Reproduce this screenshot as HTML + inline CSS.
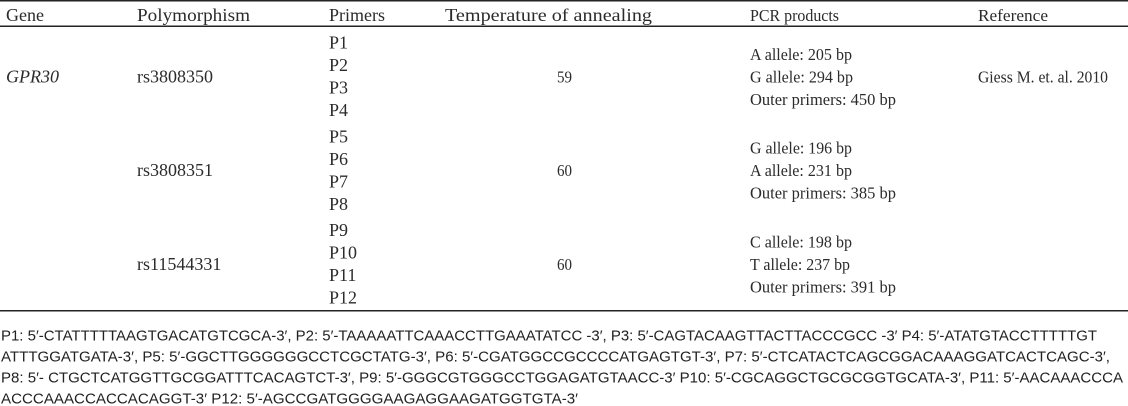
<!DOCTYPE html>
<html>
<head>
<meta charset="utf-8">
<style>
  html, body { margin: 0; padding: 0; background: #ffffff; }
  body { width: 1128px; height: 406px; overflow: hidden; }
  svg { display: block; }
  .s { font-family: "Liberation Serif", serif; font-size: 18px; fill: #2b2b2b; }
  .t { font-family: "Liberation Serif", serif; font-size: 16.5px; fill: #2b2b2b; }
  .f { font-family: "Liberation Sans", sans-serif; font-size: 15px; fill: #222222; }
</style>
</head>
<body>
<svg width="1128" height="406" viewBox="0 0 1128 406" xmlns="http://www.w3.org/2000/svg">
  <rect x="0" y="0" width="1128" height="406" fill="#ffffff"/>
  <!-- rules -->
  <rect x="0" y="0" width="1128" height="1.5" fill="#222"/>
  <rect x="0" y="25.5" width="1128" height="1.5" fill="#222"/>
  <rect x="0" y="310" width="1128" height="1.5" fill="#222"/>

  <!-- header -->
  <text class="s" x="6" y="21">Gene</text>
  <text class="s" x="137" y="21" textLength="113" lengthAdjust="spacingAndGlyphs">Polymorphism</text>
  <text class="s" x="329" y="21">Primers</text>
  <text class="s" x="445" y="21" textLength="207" lengthAdjust="spacingAndGlyphs">Temperature of annealing</text>
  <text class="t" x="750" y="21" textLength="89" lengthAdjust="spacingAndGlyphs">PCR products</text>
  <text class="t" x="978" y="21" textLength="70" lengthAdjust="spacingAndGlyphs">Reference</text>

  <!-- group 1 -->
  <text class="s" x="6" y="82.25" font-style="italic">GPR30</text>
  <text class="s" x="137" y="82.25">rs3808350</text>
  <text class="s" x="329" y="48.5">P1</text>
  <text class="s" x="329" y="71">P2</text>
  <text class="s" x="329" y="93.5">P3</text>
  <text class="s" x="329" y="116">P4</text>
  <text class="t" x="557" y="82.25" textLength="15" lengthAdjust="spacingAndGlyphs">59</text>
  <text class="t" x="750" y="59.75" textLength="102" lengthAdjust="spacingAndGlyphs">A allele: 205 bp</text>
  <text class="t" x="750" y="82.25" textLength="103" lengthAdjust="spacingAndGlyphs">G allele: 294 bp</text>
  <text class="t" x="750" y="104.75" textLength="146" lengthAdjust="spacingAndGlyphs">Outer primers: 450 bp</text>
  <text class="t" x="978" y="82.25" textLength="130" lengthAdjust="spacingAndGlyphs">Giess M. et. al. 2010</text>

  <!-- group 2 -->
  <text class="s" x="137" y="176">rs3808351</text>
  <text class="s" x="329" y="142.5">P5</text>
  <text class="s" x="329" y="165">P6</text>
  <text class="s" x="329" y="187.5">P7</text>
  <text class="s" x="329" y="210">P8</text>
  <text class="t" x="557" y="176" textLength="15" lengthAdjust="spacingAndGlyphs">60</text>
  <text class="t" x="750" y="153.5" textLength="102" lengthAdjust="spacingAndGlyphs">G allele: 196 bp</text>
  <text class="t" x="750" y="176" textLength="102" lengthAdjust="spacingAndGlyphs">A allele: 231 bp</text>
  <text class="t" x="750" y="198.5" textLength="146" lengthAdjust="spacingAndGlyphs">Outer primers: 385 bp</text>

  <!-- group 3 -->
  <text class="s" x="137" y="269.75">rs11544331</text>
  <text class="s" x="329" y="236">P9</text>
  <text class="s" x="329" y="258.5">P10</text>
  <text class="s" x="329" y="281">P11</text>
  <text class="s" x="329" y="303.5">P12</text>
  <text class="t" x="557" y="269.75" textLength="15" lengthAdjust="spacingAndGlyphs">60</text>
  <text class="t" x="750" y="247.25" textLength="102" lengthAdjust="spacingAndGlyphs">C allele: 198 bp</text>
  <text class="t" x="750" y="269.75" textLength="100" lengthAdjust="spacingAndGlyphs">T allele: 237 bp</text>
  <text class="t" x="750" y="292.25" textLength="146" lengthAdjust="spacingAndGlyphs">Outer primers: 391 bp</text>

  <!-- footnote -->
  <text class="f" x="1" y="340.3" textLength="1096" lengthAdjust="spacingAndGlyphs">P1: 5′-CTATTTTTAAGTGACATGTCGCA-3′, P2: 5′-TAAAAATTCAAACCTTGAAATATCC -3′, P3: 5′-CAGTACAAGTTACTTACCCGCC -3′ P4: 5′-ATATGTACCTTTTTGT</text>
  <text class="f" x="1" y="361.3" textLength="1109" lengthAdjust="spacingAndGlyphs">ATTTGGATGATA-3′, P5: 5′-GGCTTGGGGGGCCTCGCTATG-3′, P6: 5′-CGATGGCCGCCCCATGAGTGT-3′, P7: 5′-CTCATACTCAGCGGACAAAGGATCACTCAGC-3′,</text>
  <text class="f" x="1" y="382.3" textLength="1122" lengthAdjust="spacingAndGlyphs">P8: 5′- CTGCTCATGGTTGCGGATTTCACAGTCT-3′, P9: 5′-GGGCGTGGGCCTGGAGATGTAACC-3′ P10: 5′-CGCAGGCTGCGCGGTGCATA-3′, P11: 5′-AACAAACCCA</text>
  <text class="f" x="1" y="403.3" textLength="577" lengthAdjust="spacingAndGlyphs">ACCCAAACCACCACAGGT-3′ P12: 5′-AGCCGATGGGGAAGAGGAAGATGGTGTA-3′</text>
</svg>
</body>
</html>
